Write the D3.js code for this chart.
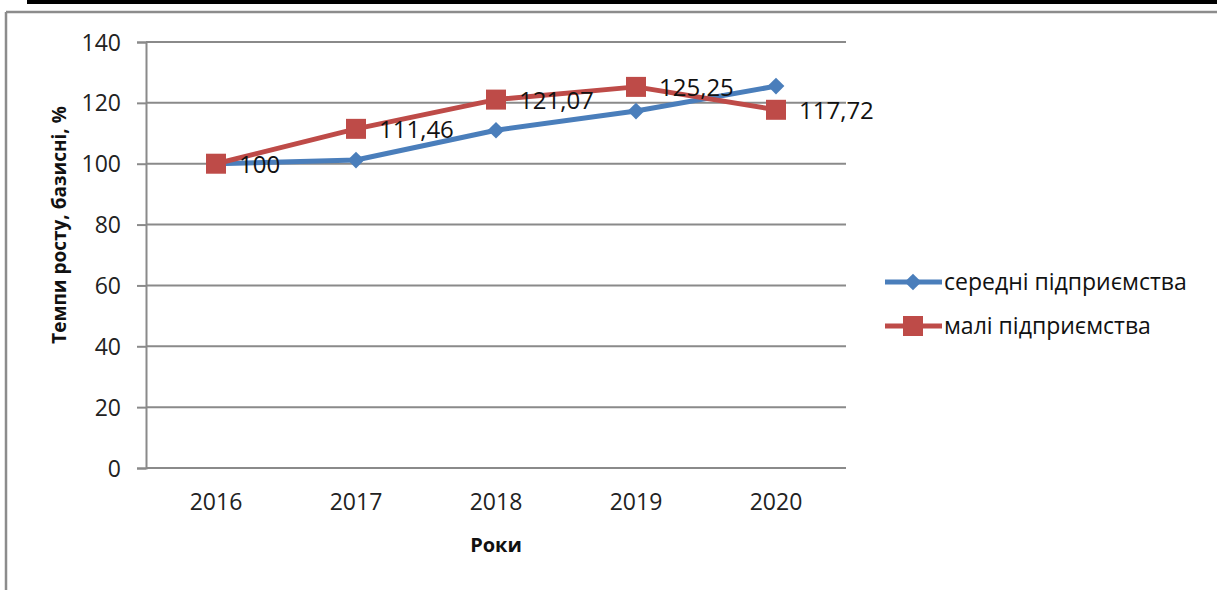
<!DOCTYPE html>
<html><head><meta charset="utf-8">
<script src="https://cdn.jsdelivr.net/npm/d3@7"></script>
<style>body{margin:0;background:#fff;}svg{display:block;}</style>
</head><body>
<svg id="c" width="1217" height="590"></svg>
<script>
const years = ["2016","2017","2018","2019","2020"];
const medium = [100, 101.2, 111, 117.3, 125.5];
const small = [100, 111.46, 121.07, 125.25, 117.72];
const smallLabels = ["100","111,46","121,07","125,25","117,72"];
const yTicks = [0,20,40,60,80,100,120,140];
const seriesNames = ["середні підприємства","малі підприємства"];
const yTitle = "Темпи росту, базисні, %";
const xTitle = "Роки";

const svg = d3.select("#c");
const font = "'Open Sans', sans-serif";
const blue = "#4A7EBB", red = "#BE4B48", grid = "#8A8A8A";

// frame
svg.append("rect").attr("x",27).attr("y",0).attr("width",1190).attr("height",4).attr("fill","#000");
svg.append("line").attr("x1",6).attr("x2",1217).attr("y1",12).attr("y2",12).attr("stroke","#8C8C8C").attr("stroke-width",2.5);
svg.append("line").attr("x1",6).attr("x2",6).attr("y1",12).attr("y2",590).attr("stroke","#8C8C8C").attr("stroke-width",2.5);

const x = d3.scaleBand().domain(years).range([146,846]);
const y = d3.scaleLinear().domain([0,140]).range([468,42]);
const cx = d => x(d) + x.bandwidth()/2;

// gridlines
svg.append("g").selectAll("line").data(yTicks).join("line")
  .attr("x1",146).attr("x2",846).attr("y1",d=>y(d)).attr("y2",d=>y(d))
  .attr("stroke",grid).attr("stroke-width",2);

// y axis
const ya = svg.append("g").attr("transform","translate(146,0)")
  .call(d3.axisLeft(y).tickValues(yTicks).tickSize(9).tickPadding(16));
ya.select(".domain").attr("stroke",grid).attr("stroke-width",2);
ya.selectAll(".tick line").attr("stroke",grid).attr("stroke-width",2);
ya.selectAll("text").attr("font-family",font).attr("font-size",23).attr("fill","#222").attr("dy","0.35em");

// x axis
const xa = svg.append("g").attr("transform","translate(0,468)")
  .call(d3.axisBottom(x).tickSize(0).tickPadding(26));
xa.select(".domain").remove();
xa.selectAll("text").attr("font-family",font).attr("font-size",23).attr("fill","#222");

// titles
svg.append("text").attr("transform","translate(66,225) rotate(-90)").attr("text-anchor","middle")
  .attr("font-family",font).attr("font-weight","bold").attr("font-size",19).attr("fill","#111").text(yTitle);
svg.append("text").attr("x",496).attr("y",552).attr("text-anchor","middle")
  .attr("font-family",font).attr("font-weight","bold").attr("font-size",20).attr("fill","#111").text(xTitle);

const line = d3.line().x((d,i)=>cx(years[i])).y(d=>y(d));

// medium series
svg.append("path").datum(medium).attr("d",line).attr("fill","none").attr("stroke",blue).attr("stroke-width",5).attr("stroke-linejoin","round");
svg.append("g").selectAll("path").data(medium).join("path")
  .attr("transform",(d,i)=>`translate(${cx(years[i])},${y(d)}) rotate(45)`)
  .attr("d",d3.symbol().type(d3.symbolSquare).size(140)).attr("fill",blue);

// small series
svg.append("path").datum(small).attr("d",line).attr("fill","none").attr("stroke",red).attr("stroke-width",5).attr("stroke-linejoin","round");
svg.append("g").selectAll("rect").data(small).join("rect")
  .attr("x",(d,i)=>cx(years[i])-10).attr("y",d=>y(d)-10).attr("width",20).attr("height",20).attr("fill",red);

// labels
svg.append("g").selectAll("text").data(small).join("text")
  .attr("x",(d,i)=>cx(years[i])+23).attr("y",d=>y(d)).attr("dy","0.38em")
  .attr("font-family",font).attr("font-size",24).attr("fill","#111").text((d,i)=>smallLabels[i]);

// legend
const leg = svg.append("g");
const lg = [{name:seriesNames[0],c:blue,t:"d",y:282},{name:seriesNames[1],c:red,t:"s",y:326}];
lg.forEach(l=>{
  leg.append("line").attr("x1",885).attr("x2",942).attr("y1",l.y).attr("y2",l.y).attr("stroke",l.c).attr("stroke-width",5);
  if(l.t==="d") leg.append("path").attr("transform",`translate(913,${l.y}) rotate(45)`).attr("d",d3.symbol().type(d3.symbolSquare).size(140)).attr("fill",l.c);
  else leg.append("rect").attr("x",903).attr("y",l.y-10).attr("width",20).attr("height",20).attr("fill",l.c);
  leg.append("text").attr("x",944).attr("y",l.y).attr("dy","0.35em").attr("font-family",font).attr("font-size",23).attr("fill","#111").text(l.name);
});
</script>
</body></html>
